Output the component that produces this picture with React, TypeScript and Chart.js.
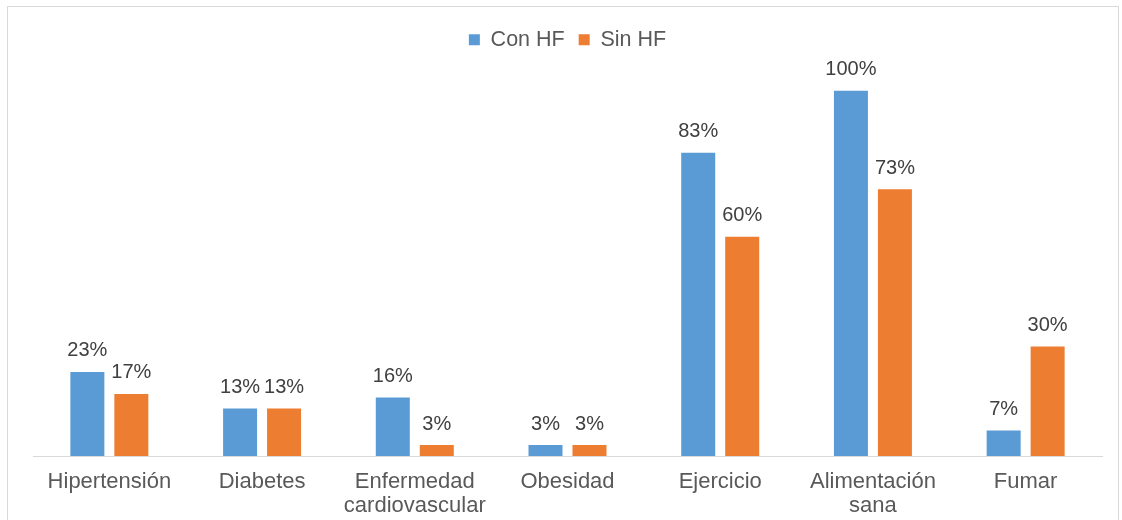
import React, { useEffect, useRef } from "react";
import { Chart, registerables } from "chart.js";

Chart.register(...registerables);

const categories: (string | string[])[] = [
  "Hipertensión",
  "Diabetes",
  ["Enfermedad", "cardiovascular"],
  "Obesidad",
  "Ejercicio",
  ["Alimentación", "sana"],
  "Fumar",
];
const conHF = [23, 13, 16, 3, 83, 100, 7];
const sinHF = [17, 13, 3, 3, 60, 73, 30];
const seriesNames = ["Con HF", "Sin HF"];
const colors = ["#5B9BD5", "#ED7D31"];

const FONT = "'Liberation Sans', Arial, Helvetica, sans-serif";

const valueLabels = {
  id: "valueLabels",
  afterDatasetsDraw(chart: any) {
    const ctx = chart.ctx;
    ctx.save();
    ctx.font = `20px ${FONT}`;
    ctx.fillStyle = "#404040";
    ctx.textAlign = "center";
    ctx.textBaseline = "middle";
    chart.data.datasets.forEach((ds: any, i: number) => {
      const meta = chart.getDatasetMeta(i);
      meta.data.forEach((el: any, j: number) => {
        ctx.fillText(ds.data[j] + "%", el.x, el.y - 21);
      });
    });
    ctx.restore();
  },
};

const legendMargin = {
  id: "legendMargin",
  beforeInit(chart: any) {
    const legend = chart.legend;
    if (!legend) return;
    const orig = legend.fit;
    legend.fit = function () {
      orig.call(this);
      this.height += 30;
    };
  },
};

export default function App() {
  const ref = useRef<HTMLCanvasElement>(null);
  useEffect(() => {
    if (!ref.current) return;
    const chart = new Chart(ref.current, {
      type: "bar",
      data: {
        labels: categories,
        datasets: [
          { label: seriesNames[0], data: conHF, backgroundColor: colors[0] },
          { label: seriesNames[1], data: sinHF, backgroundColor: colors[1] },
        ],
      },
      options: {
        animation: false,
        responsive: false,
        maintainAspectRatio: false,
        layout: { padding: { top: 8, left: 25, right: 16, bottom: 2 } },
        datasets: {
          bar: { categoryPercentage: 0.576, barPercentage: 0.773 },
        },
        plugins: {
          legend: {
            position: "top",
            labels: {
              boxWidth: 11,
              boxHeight: 11,
              padding: 14,
              color: "#595959",
              font: { family: FONT, size: 21.5 },
            },
          },
          tooltip: { enabled: false },
        },
        scales: {
          x: {
            grid: { display: false, drawTicks: false },
            border: { display: true, color: "#d9d9d9", width: 1 },
            ticks: {
              color: "#595959",
              padding: 14,
              maxRotation: 0,
              autoSkip: false,
              font: { family: FONT, size: 22, lineHeight: 1.09 },
            },
          },
          y: {
            display: false,
            min: 0,
            max: 100,
          },
        },
      },
      plugins: [valueLabels, legendMargin],
    });
    return () => chart.destroy();
  }, []);
  return (
    <div
      style={{
        position: "absolute",
        left: 7,
        top: 6,
        width: 1110,
        height: 530,
        border: "1px solid #d9d9d9",
        background: "#fff",
        boxSizing: "content-box",
      }}
    >
      <canvas ref={ref} width={1110} height={527} style={{ display: "block" }} />
    </div>
  );
}
